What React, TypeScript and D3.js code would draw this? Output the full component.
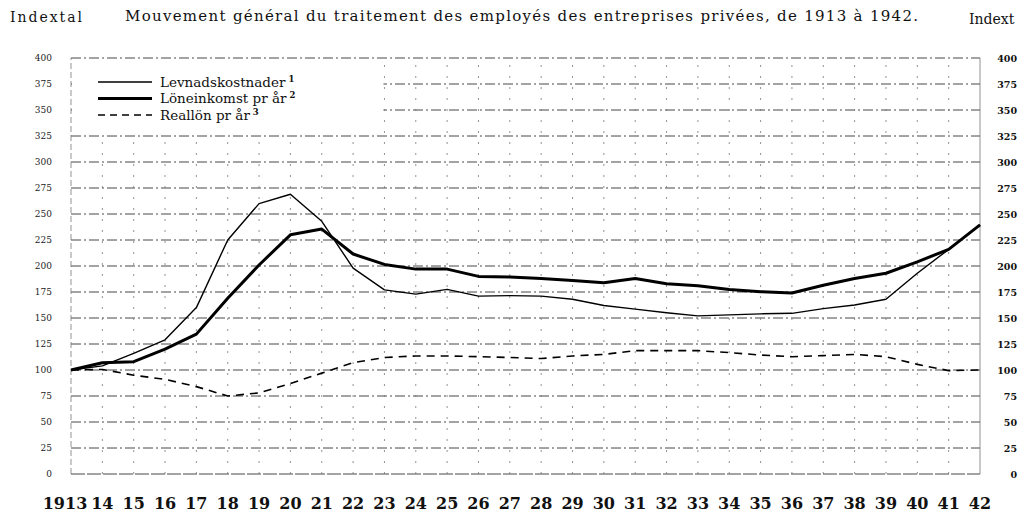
import React from "react"
import * as d3 from "d3"

// years along the bottom, 1913..1942
const years = [
  1913, 1914, 1915, 1916, 1917, 1918, 1919, 1920, 1921, 1922,
  1923, 1924, 1925, 1926, 1927, 1928, 1929, 1930, 1931, 1932,
  1933, 1934, 1935, 1936, 1937, 1938, 1939, 1940, 1941, 1942,
]
const yearLabels = [
  "1913", "14", "15", "16", "17", "18", "19", "20", "21", "22",
  "23", "24", "25", "26", "27", "28", "29", "30", "31", "32",
  "33", "34", "35", "36", "37", "38", "39", "40", "41", "42",
]

// Levnadskostnader (cost of living)
const levnadskostnader = [
  100, 104, 116, 129, 160, 225, 260, 269, 243, 198,
  177, 173, 177.5, 171, 171.5, 171, 168, 162, 158.5, 155,
  152, 153, 154, 154.5, 159, 162.5, 168, 193, 216, 239.5,
]
// Löneinkomst pr år (wage income)
const loneinkomst = [
  100, 107, 108, 120, 134.5, 169, 201, 230, 235.5, 211.5,
  201.5, 197, 197, 190, 189.5, 188, 186, 184, 188, 183,
  181, 177.5, 175.3, 174, 181.5, 188, 193, 204, 216, 239.5,
]
// Reallön pr år (real wage)
const reallon = [
  100, 100.5, 95, 91, 84, 75, 78, 87, 97, 107,
  112, 113.5, 113.5, 112.8, 112, 111, 113.5, 115, 118.6, 118.6,
  118.6, 116.7, 114.4, 112.8, 113.8, 115, 112.8, 105.4, 99.4, 100,
]

const yTicks = [0, 25, 50, 75, 100, 125, 150, 175, 200, 225, 250, 275, 300, 325, 350, 375, 400]

const legendItems = [
  { label: "Levnadskostnader", sup: "1", width: 1.4, dash: "" },
  { label: "Löneinkomst pr år", sup: "2", width: 3, dash: "" },
  { label: "Reallön  pr år", sup: "3", width: 1.6, dash: "7 5" },
]

const title = "Mouvement général du traitement des employés des entreprises privées, de 1913 à 1942."

const SERIF = "'DejaVu Serif', 'Liberation Serif', serif"

export default function App() {
  const width = 1025
  const height = 513

  const x = d3.scaleLinear().domain([1913, 1942]).range([71, 980])
  const y = d3.scaleLinear().domain([0, 400]).range([474, 58])

  const line = d3.line<number>()
    .x((_, i) => x(years[i]))
    .y(d => y(d))

  const series = [
    { values: levnadskostnader, width: 1.4, dash: "" },
    { values: loneinkomst, width: 3, dash: "" },
    { values: reallon, width: 1.6, dash: "8 6" },
  ]

  return (
    <svg
      width={width}
      height={height}
      style={{ position: "absolute", left: 0, top: 0, display: "block", background: "#fff" }}
      fontFamily={SERIF}
    >
      {/* title + axis captions */}
      <text x={125} y={21} fontSize={15} textLength={793} lengthAdjust="spacing" fill="#111">
        {title}
      </text>
      <text x={10} y={22} fontSize={14} textLength={72} lengthAdjust="spacing" fill="#111">Indextal</text>
      <text x={969} y={24} fontSize={14} fill="#111">Indext</text>

      {/* horizontal grid */}
      <g>
        {yTicks.map(t => (
          <line
            key={"h" + t}
            x1={x(1913)}
            x2={x(1942)}
            y1={y(t)}
            y2={y(t)}
            stroke="#333"
            strokeWidth={0.9}
            strokeDasharray={t === 0 ? "14 2" : "10 3 2 3"}
          />
        ))}
      </g>

      {/* vertical grid */}
      <g>
        {years.map(yr => (
          <line
            key={"v" + yr}
            x1={x(yr)}
            x2={x(yr)}
            y1={y(0)}
            y2={y(400)}
            stroke="#777"
            strokeWidth={0.8}
            strokeDasharray={yr === 1942 ? "" : yr === 1913 ? "6 3" : "2 9"}
          />
        ))}
      </g>

      {/* legend block, blanking the grid behind it */}
      <rect x={x(1913) + 1} y={y(400) + 1} width={x(1923) - x(1913) - 2} height={y(325) - y(400) - 2} fill="#fff" />
      <g>
        {legendItems.map((d, i) => (
          <g key={d.label} transform={`translate(0, ${82 + i * 16.5})`}>
            <line x1={98} x2={152} y1={0} y2={0} stroke="#000" strokeWidth={d.width} strokeDasharray={d.dash} />
            <text x={160} y={4.5} fontSize={13.5} fill="#111">
              {d.label}
              <tspan fontSize={8.5} fontWeight="bold" dy={-5} dx={3}>{d.sup}</tspan>
            </text>
          </g>
        ))}
      </g>

      {/* series */}
      {series.map((s, i) => (
        <path
          key={i}
          d={line(s.values) ?? ""}
          fill="none"
          stroke="#000"
          strokeWidth={s.width}
          strokeDasharray={s.dash}
          strokeLinejoin="round"
        />
      ))}

      {/* left axis labels */}
      {yTicks.map(t => (
        <text key={"l" + t} x={52} y={y(t) + 3} fontSize={9} textAnchor="end" fill="#222">{t}</text>
      ))}
      {/* right axis labels */}
      {yTicks.map(t => (
        <text key={"r" + t} x={1017} y={y(t) + 3.5} fontSize={9.5} fontWeight="bold" textAnchor="end" fill="#111">{t}</text>
      ))}

      {/* year labels */}
      {years.map((yr, i) => (
        <text
          key={"x" + yr}
          x={i === 0 ? x(yr) - 6 : x(yr)}
          y={509}
          fontSize={16}
          fontWeight="bold"
          textAnchor="middle"
          fill="#111"
        >
          {yearLabels[i]}
        </text>
      ))}
    </svg>
  )
}
